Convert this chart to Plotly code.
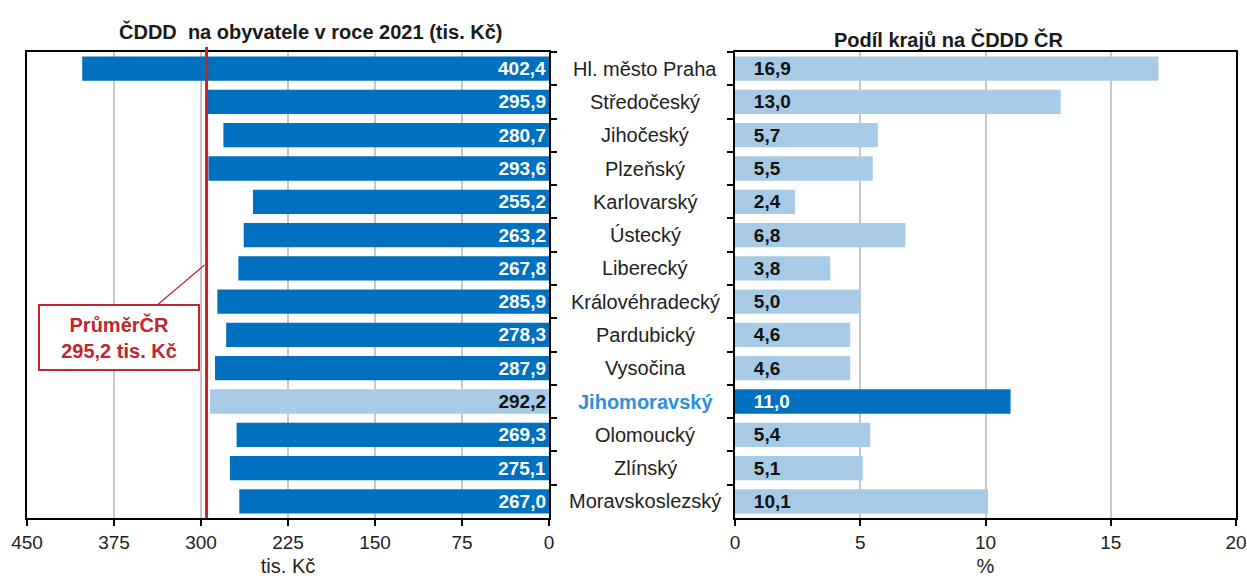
import plotly.graph_objects as go

regions = ["Hl. město Praha", "Středočeský", "Jihočeský", "Plzeňský", "Karlovarský",
           "Ústecký", "Liberecký", "Královéhradecký", "Pardubický", "Vysočina",
           "Jihomoravský", "Olomoucký", "Zlínský", "Moravskoslezský"]
per_capita = [402.4, 295.9, 280.7, 293.6, 255.2, 263.2, 267.8, 285.9, 278.3, 287.9,
              292.2, 269.3, 275.1, 267.0]
share = [16.9, 13.0, 5.7, 5.5, 2.4, 6.8, 3.8, 5.0, 4.6, 4.6, 11.0, 5.4, 5.1, 10.1]
average_cr = 295.2
highlight = "Jihomoravský"

left_ticks = [450, 375, 300, 225, 150, 75, 0]
right_ticks = [0, 5, 10, 15, 20]

DARK = "#0070C0"
LIGHT = "#A7CBE7"
RED = "#C0272D"
FONT = "Liberation Sans, Arial, sans-serif"

# body margin is removed by post_script, so page pixels == figure pixels
W, H = 1247, 579
PLOT_L, PLOT_R, PLOT_T, PLOT_B = 27, 1236, 52, 518   # page pixels
ML = PLOT_L
MR = W - PLOT_R
MT = PLOT_T
MB = H - PLOT_B
PW = W - ML - MR
PH = H - MT - MB

def dx(px):
    return (px - PLOT_L) / PW

def dy(py):
    return (PLOT_B - py) / PH

left_colors = [LIGHT if r == highlight else DARK for r in regions]
left_text_colors = ["#111111" if r == highlight else "white" for r in regions]
right_colors = [DARK if r == highlight else LIGHT for r in regions]
right_text_colors = ["white" if r == highlight else "#111111" for r in regions]

fig = go.Figure()
fig.add_trace(go.Bar(
    y=regions, x=per_capita, orientation="h", xaxis="x", yaxis="y",
    marker=dict(color=left_colors, line=dict(width=0)),
    texttemplate="%{x:.1f}", textposition="inside", insidetextanchor="start",
    textfont=dict(family=FONT, size=19, color=left_text_colors, weight="bold"),
    constraintext="none", showlegend=False, hoverinfo="skip",
))
fig.add_trace(go.Bar(
    y=regions, x=share, orientation="h", xaxis="x2", yaxis="y2",
    marker=dict(color=right_colors, line=dict(width=0)),
    texttemplate="   %{x:.1f}", textposition="inside", insidetextanchor="start",
    textfont=dict(family=FONT, size=19, color=right_text_colors, weight="bold"),
    constraintext="none", showlegend=False, hoverinfo="skip",
))

axis_common = dict(
    showline=True, linecolor="black", linewidth=1.5, mirror=True,
    ticks="outside", ticklen=6, tickcolor="black", tickwidth=1.5,
    tickfont=dict(family=FONT, size=19, color="#222222"),
    gridcolor="#C8C8C8", gridwidth=1.5, zeroline=False, automargin=False,
)
title_font = dict(family=FONT, size=20, color="#222222")

fig.update_layout(
    width=W, height=H,
    margin=dict(l=ML, r=MR, t=MT, b=MB, autoexpand=False),
    plot_bgcolor="white", paper_bgcolor="white",
    separators=", ",
    bargap=0.27,
    xaxis=dict(domain=[0, dx(549)], range=[450, 0], tickvals=left_ticks, showgrid=True,
               title=dict(text="tis. Kč", font=title_font, standoff=7), **axis_common),
    yaxis=dict(anchor="x", side="right", autorange="reversed", showticklabels=False,
               tickson="boundaries", showgrid=False, **axis_common),
    xaxis2=dict(domain=[dx(735), 1], range=[0, 20], tickvals=right_ticks, anchor="y2",
                showgrid=True, title=dict(text="%", font=title_font, standoff=7), **axis_common),
    yaxis2=dict(anchor="x2", side="left", autorange="reversed", showticklabels=False,
                tickson="boundaries", showgrid=False, **axis_common),
)

# Average line
fig.add_shape(type="line", xref="x", yref="paper", x0=average_cr, x1=average_cr,
              y0=0, y1=dy(47), line=dict(color=RED, width=3), layer="above")

# Average annotation box with connector
fig.add_annotation(
    xref="x", yref="paper", x=297, y=dy(265),
    ax=-85, ay=72, axref="pixel", ayref="pixel",
    text="<b>PrůměrČR<br>295,2 tis. Kč</b>",
    font=dict(family=FONT, size=20, color=RED),
    showarrow=True, arrowhead=0, arrowcolor=RED, arrowwidth=1.2,
    bordercolor=RED, borderwidth=2, borderpad=3, bgcolor="white",
    width=152, height=57, align="center",
)

# Category labels in the middle
for r in regions:
    is_h = r == highlight
    fig.add_annotation(
        xref="paper", yref="y", x=dx(645), y=r, text=f"<b>{r}</b>" if is_h else r,
        showarrow=False, xanchor="center",
        font=dict(family=FONT, size=20, color="#2F8FDB" if is_h else "#222222"),
    )

# Panel titles
fig.add_annotation(xref="paper", yref="paper", x=dx(310), y=dy(31),
                   text="<b>ČDDD  na obyvatele v roce 2021 (tis. Kč)</b>", showarrow=False,
                   font=dict(family=FONT, size=20, color="#1a1a1a"),
                   xanchor="center", yanchor="middle")
fig.add_annotation(xref="paper", yref="paper", x=dx(948), y=dy(39),
                   text="<b>Podíl krajů na ČDDD ČR</b>", showarrow=False,
                   font=dict(family=FONT, size=20, color="#1a1a1a"),
                   xanchor="center", yanchor="middle")

fig.write_html(
    "out.html",
    config={"displayModeBar": False},
    post_script="document.body.style.margin='0';document.body.style.overflow='hidden';",
)
